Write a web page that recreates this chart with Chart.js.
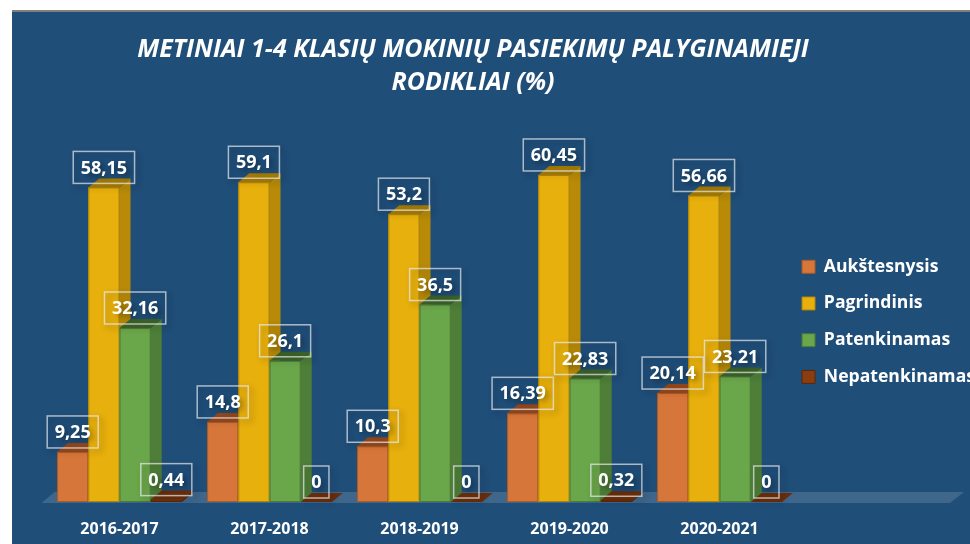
<!DOCTYPE html>
<html>
<head>
<meta charset="utf-8">
<script src="https://cdn.jsdelivr.net/npm/chart.js@4.4.1/dist/chart.umd.min.js"></script>
<style>
  html, body { margin: 0; padding: 0; background: #ffffff; }
  #wrap {
    position: absolute; left: 12px; top: 10px;
    width: 958px; height: 534px;
    background: #1F4E79;
    border-top: 2px solid #7f7f7f;
    box-sizing: border-box;
  }
  canvas { display: block; }
</style>
</head>
<body>
<div id="wrap"><canvas id="myChart" width="958" height="532"></canvas></div>
<script>
const years = ["2016-2017", "2017-2018", "2018-2019", "2019-2020", "2020-2021"]
const aukstesnysis = [9.25, 14.8, 10.3, 16.39, 20.14]
const pagrindinis = [58.15, 59.1, 53.2, 60.45, 56.66]
const patenkinamas = [32.16, 26.1, 36.5, 22.83, 23.21]
const nepatenkinamas = [0.44, 0, 0, 0.32, 0]

// front / side / top colours for each series
const shades = [
  { front: "#D7763A", side: "#AE5C27", top: "#97481C", line: "#A95A25" },
  { front: "#E8B00C", side: "#B88A08", top: "#A77C05", line: "#B0840A" },
  { front: "#6AA64A", side: "#4E7E37", top: "#3C6329", line: "#4D7A36" },
  { front: "#8A3E10", side: "#5E2707", top: "#6B2E0A", line: "#5E2707" },
]
const DX = 11, DY = 9

const fmt = v => String(v).replace(".", ",")

const floorPlugin = {
  id: "floor",
  beforeDatasetsDraw(chart) {
    const { ctx, chartArea } = chart
    const b = chartArea.bottom
    ctx.save()
    ctx.fillStyle = "rgba(255,255,255,0.14)"
    ctx.beginPath()
    ctx.moveTo(chartArea.left - 3, b + 1)
    ctx.lineTo(chartArea.left + 10, b - 10)
    ctx.lineTo(chart.width - 6, b - 10)
    ctx.lineTo(chart.width - 20, b + 1)
    ctx.closePath()
    ctx.fill()
    ctx.restore()
  }
}

const bars3d = {
  id: "bars3d",
  afterDatasetsDraw(chart) {
    const ctx = chart.ctx
    const n = chart.data.labels.length
    ctx.save()
    for (let j = 0; j < n; j++) {
      chart.data.datasets.forEach((ds, i) => {
        const bar = chart.getDatasetMeta(i).data[j]
        const c = shades[i]
        const l = bar.x - bar.width / 2, r = bar.x + bar.width / 2
        const t = bar.y, b = bar.base
        // front
        if (b - t > 0.5) {
          ctx.fillStyle = c.front
          ctx.fillRect(l, t, r - l, b - t)
          ctx.strokeStyle = c.line
          ctx.lineWidth = 1
          ctx.strokeRect(l + 0.5, t + 0.5, r - l - 1, b - t - 1)
          // side
          ctx.fillStyle = c.side
          ctx.beginPath()
          ctx.moveTo(r, t); ctx.lineTo(r + DX, t - DY); ctx.lineTo(r + DX, b - DY); ctx.lineTo(r, b)
          ctx.closePath(); ctx.fill()
        }
        // top
        ctx.fillStyle = c.top
        ctx.beginPath()
        ctx.moveTo(l, t); ctx.lineTo(l + DX, t - DY); ctx.lineTo(r + DX, t - DY); ctx.lineTo(r, t)
        ctx.closePath(); ctx.fill()
      })
    }
    ctx.restore()

    // value labels
    ctx.save()
    ctx.font = "bold 18px 'Open Sans'"
    ctx.textAlign = "center"
    ctx.textBaseline = "middle"
    chart.data.datasets.forEach((ds, i) => {
      chart.getDatasetMeta(i).data.forEach((bar, j) => {
        const txt = fmt(ds.data[j])
        const w = ctx.measureText(txt).width + 15
        const h = 32
        const x = bar.x - w / 2
        const y = bar.y - 4 - h
        ctx.shadowColor = "rgba(0,0,0,0.45)"
        ctx.shadowBlur = 6
        ctx.shadowOffsetX = 3
        ctx.shadowOffsetY = 3
        ctx.strokeStyle = "rgba(230,235,240,0.7)"
        ctx.lineWidth = 1.5
        ctx.strokeRect(x, y, w, h)
        ctx.fillStyle = "#ffffff"
        ctx.fillText(txt, bar.x, y + h / 2 + 1)
      })
    })
    ctx.restore()
  }
}

const titleShift = {
  id: "titleShift",
  afterLayout(chart) {
    const t = chart.titleBlock
    if (t) { t.left = 0; t.right = chart.width - 36 }
  }
}

new Chart(document.getElementById("myChart"), {
  type: "bar",
  data: {
    labels: years,
    datasets: [
      { label: "Aukštesnysis", data: aukstesnysis, backgroundColor: shades[0].front, borderColor: shades[0].line, borderWidth: 1 },
      { label: "Pagrindinis", data: pagrindinis, backgroundColor: shades[1].front, borderColor: shades[1].line, borderWidth: 1 },
      { label: "Patenkinamas", data: patenkinamas, backgroundColor: shades[2].front, borderColor: shades[2].line, borderWidth: 1 },
      { label: "Nepatenkinamas", data: nepatenkinamas, backgroundColor: shades[3].front, borderColor: shades[3].line, borderWidth: 1 },
    ],
  },
  options: {
    responsive: false,
    animation: false,
    devicePixelRatio: 1,
    categoryPercentage: 0.832,
    barPercentage: 1,
    layout: { padding: { left: 32.5, right: -15, top: 0, bottom: 2 } },
    scales: {
      x: {
        grid: { display: false, drawTicks: false },
        border: { display: false },
        ticks: { color: "#ffffff", font: { family: "'Open Sans'", size: 16, weight: "bold" }, padding: 18 },
        afterFit(scale) { scale.height = 40 },
      },
      y: { display: false, min: 0, max: 70 },
    },
    plugins: {
      title: {
        display: true,
        text: ["METINIAI 1-4 KLASIŲ MOKINIŲ PASIEKIMŲ PALYGINAMIEJI", "RODIKLIAI (%)"],
        color: "#ffffff",
        font: { family: "'Open Sans'", size: 25, weight: "bold", style: "italic", lineHeight: 1.34 },
        padding: { top: 20.75, bottom: 23.55 },
      },
      legend: {
        position: "right",
        fullSize: false,
        title: { display: true, text: " ", color: "rgba(0,0,0,0)", font: { size: 10 }, padding: 9 },
        labels: {
          color: "#ffffff",
          font: { family: "'Open Sans'", size: 17.6, weight: "bold", lineHeight: 1.66 },
          boxWidth: 13,
          boxHeight: 13,
          padding: 7.5,
          generateLabels(chart) {
            const items = Chart.defaults.plugins.legend.labels.generateLabels(chart)
            items.forEach(it => { it.text = [it.text] })
            return items
          },
        },
      },
      tooltip: { enabled: false },
    },
  },
  plugins: [floorPlugin, bars3d, titleShift],
})
</script>
</body>
</html>
